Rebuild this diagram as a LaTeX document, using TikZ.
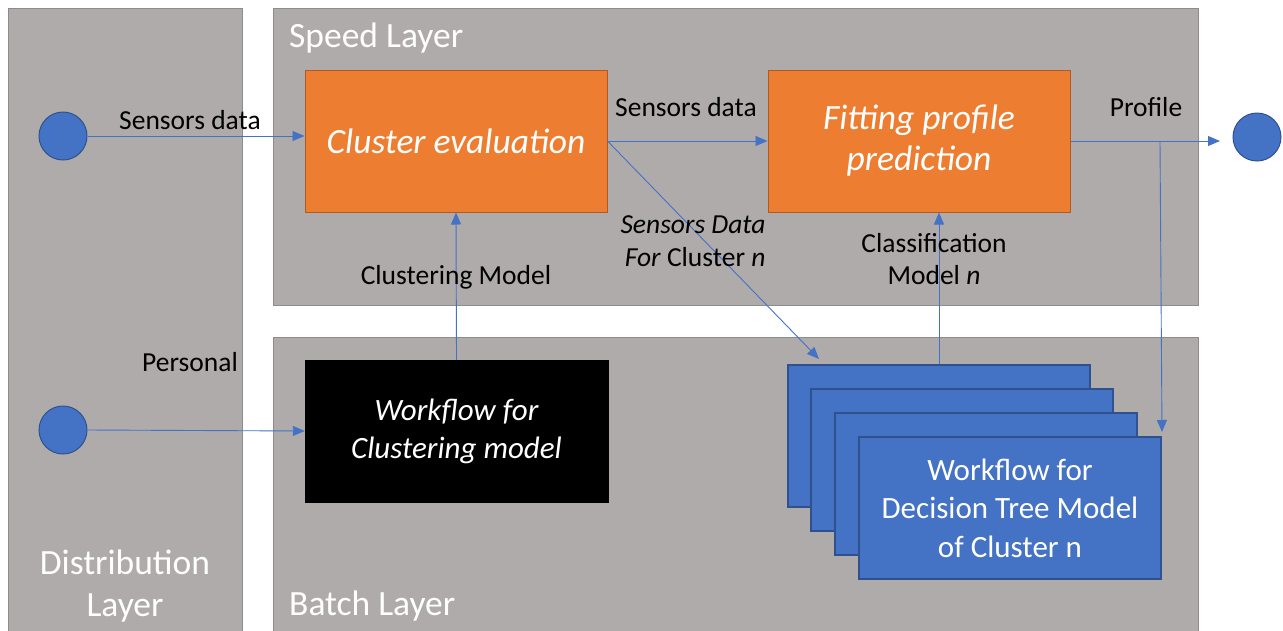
\documentclass[tikz,border=0pt]{standalone}
\usepackage{fontspec}
\setmainfont{Carlito}
\usetikzlibrary{arrows.meta,calc}
\definecolor{panel}{HTML}{AFABAB}
\definecolor{panelline}{HTML}{8C8C8C}
\definecolor{orangefill}{HTML}{ED7D31}
\definecolor{orangeline}{HTML}{AE5A21}
\definecolor{bluefill}{HTML}{4472C4}
\definecolor{blueline}{HTML}{2F528F}
\newcommand{\fs}[2]{\fontsize{#1}{#2}\selectfont}
\tikzset{
  x=1pt, y=-1pt,
  layer/.style={draw=panelline, fill=panel, line width=1pt},
  layertitle/.style={text=white, font=\fs{35.5}{42}, inner sep=0pt},
  procbox/.style={draw=orangeline, fill=orangefill, line width=1pt, minimum width=302pt,
    minimum height=142pt, inner sep=0pt, text=white, align=center, font=\fs{35.5}{41}\itshape},
  darkbox/.style={draw=black, fill=black, minimum width=303pt, minimum height=142pt,
    inner sep=0pt, text=white, align=center, font=\fs{31}{38}\itshape},
  treebox/.style={draw=blueline, fill=bluefill, line width=1.2pt, minimum width=302pt,
    minimum height=142pt, inner sep=0pt, text=white, align=center, font=\fs{31}{38.5}},
  endpoint/.style={circle, draw=blueline, fill=bluefill, line width=1pt, minimum size=48pt, inner sep=0pt},
  flow/.style={draw=bluefill, line width=0.9pt, -{Triangle[length=12pt,width=10pt]}},
  lbl/.style={font=\fs{27.5}{32.5}, inner sep=0pt, text=black}
}
\begin{document}
\begin{tikzpicture}
\useasboundingbox (0,0) rectangle (1283,630);
\begin{scope}
\clip (0,0) rectangle (1283,630);
% layer panels
\path[layer] (8,8) rectangle (242,640);
\path[layer] (273,8) rectangle (1198,305);
\path[layer] (273,337) rectangle (1198,640);
\end{scope}
\node[layertitle, anchor=west] (speedt) at (289,38) {Speed Layer};
\node[layertitle, anchor=west] (batcht) at (289,606) {Batch Layer};
\node[layertitle, align=center] (distt) at (125,586) {Distribution\\Layer};

% end points
\node[endpoint] (c1) at (63,136) {};
\node[endpoint] (c2) at (63,430) {};
\node[endpoint] (c3) at (1257,137) {};

% processing boxes
\node[procbox] (ce) at (456,141) {Cluster evaluation};
\node[procbox] (fp) at (919,141) {Fitting profile\\prediction};
\node[darkbox] (wf) at (456.5,431) {Workflow for\\Clustering model};

% stacked decision tree workflows
\node[treebox] (s1) at (939,436) {};
\node[treebox] (s2) at (962,460) {};
\node[treebox] (s3) at (986,484) {};
\node[treebox] (s4) at (1010,508) {Workflow for\\Decision Tree Model\\of Cluster n};

% connectors
\draw[flow] (c1.east) -- (c1.east -| ce.west);
\draw[flow] (c2.east) -- (wf.west);
\draw[flow] (ce.east) -- (fp.west);
\coordinate (pend) at (1220,141);
\draw[flow] (fp.east) -- (pend);
\coordinate (br) at (1160,141);
\coordinate (brend) at (1162,432);
\draw[flow] (br) -- (brend);
\coordinate (diagend) at (819,359);
\draw[flow] (ce.east) -- (diagend);
\draw[flow] (s1.north) -- (s1.north |- fp.south);
\draw[flow] (wf.north) -- (ce.south);

% labels
\node[lbl] (l1) at (190,120) {Sensors data};
\node[lbl] (l2) at (686,107) {Sensors data};
\node[lbl] (l3) at (1146,107) {Profile};
\node[lbl] (l4) at (190,362) {Personal};
\node[lbl] (l5) at (456,277) {Clustering Model};
\node[lbl, align=center] (l6) at (934,259) {Classification\\Model \textit{n}};
\node[lbl, align=right] (l7) at (693,241) {\textit{Sensors Data}\\\textit{For} Cluster \textit{n}};
\end{tikzpicture}
\end{document}
